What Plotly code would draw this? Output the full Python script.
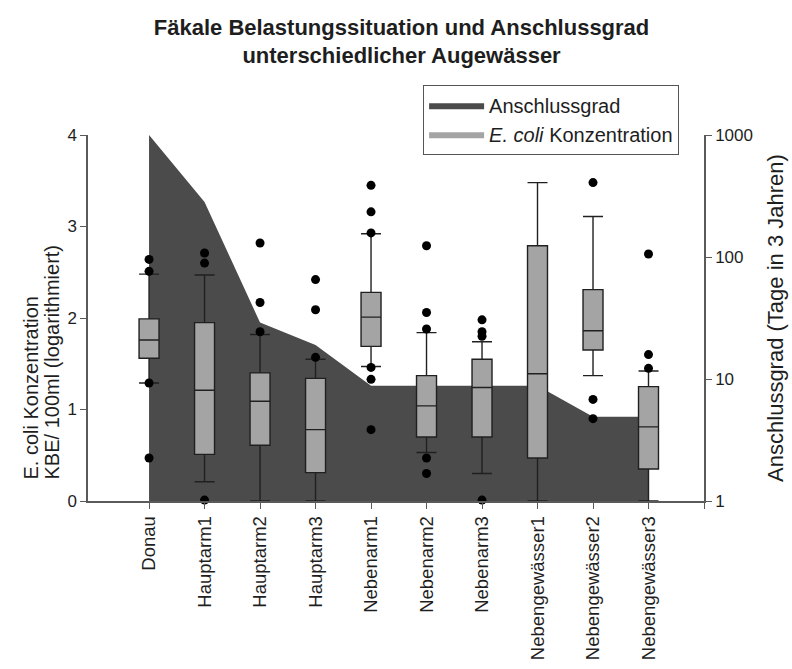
import plotly.graph_objects as go

categories = ["Donau", "Hauptarm1", "Hauptarm2", "Hauptarm3", "Nebenarm1",
              "Nebenarm2", "Nebenarm3", "Nebengewässer1", "Nebengewässer2", "Nebengewässer3"]

# Anschlussgrad (Tage in 3 Jahren), right log axis
anschluss = [1000, 283, 29, 19, 8.8, 8.8, 8.8, 8.8, 4.9, 4.9]

# E. coli box statistics (log10 KBE/100ml)
q1 = [1.56, 0.51, 0.61, 0.31, 1.69, 0.70, 0.70, 0.47, 1.65, 0.35]
median = [1.76, 1.21, 1.09, 0.78, 2.01, 1.04, 1.24, 1.39, 1.86, 0.81]
q3 = [1.99, 1.95, 1.40, 1.34, 2.28, 1.37, 1.55, 2.79, 2.31, 1.25]
upper = [2.48, 2.47, 1.82, 1.55, 2.92, 1.84, 1.74, 3.48, 3.11, 1.42]
lower = [1.29, 0.21, 0.00, 0.00, 1.47, 0.53, 0.30, 0.00, 1.37, 0.00]

# outliers per category
outliers = [
    [2.64, 2.51, 1.29, 0.47],
    [2.71, 2.60, 0.01],
    [2.82, 2.17, 1.85],
    [2.42, 2.09, 1.57],
    [3.45, 3.16, 2.93, 1.46, 1.33, 0.78],
    [2.79, 2.06, 1.88, 0.47, 0.30],
    [1.98, 1.85, 1.80, 0.01],
    [],
    [3.48, 1.11, 0.90],
    [2.70, 1.60, 1.45],
]

FONT = "Liberation Sans, Arial, sans-serif"
TXT = "#1e1e1e"
AREA = "#4b4b4b"
BOXF = "#a4a4a4"
AXC = "#5a5a5a"

idx = list(range(len(categories)))

fig = go.Figure()

# area (polygon closed down to the axis base value 1)
ax = [idx[0]] + idx + [idx[-1]]
ay = [1] + anschluss + [1]
fig.add_trace(go.Scatter(
    x=ax, y=ay, mode="lines", fill="toself", fillcolor=AREA,
    line=dict(width=0, color=AREA), name="Anschlussgrad", yaxis="y",
    hoverinfo="skip", showlegend=True))

# legend entry for E. coli (wide grey swatch)
fig.add_trace(go.Scatter(
    x=[None], y=[None], mode="lines", fill="toself", fillcolor=BOXF,
    line=dict(width=0, color=BOXF), name="<i>E. coli</i> Konzentration",
    yaxis="y2", showlegend=True))

fig.add_trace(go.Box(
    x=idx, q1=q1, median=median, q3=q3, lowerfence=lower, upperfence=upper,
    width=0.36, whiskerwidth=1.0, fillcolor=BOXF,
    line=dict(color="#202020", width=1.4), boxpoints=False,
    yaxis="y2", showlegend=False, name="E. coli"))

ox, oy = [], []
for i, vals in enumerate(outliers):
    for v in vals:
        ox.append(i)
        oy.append(v)
fig.add_trace(go.Scatter(
    x=ox, y=oy, mode="markers", yaxis="y2", showlegend=False,
    marker=dict(color="#000000", size=9), cliponaxis=False))

fig.update_layout(
    width=792, height=669,
    margin=dict(l=88, r=88, t=135, b=168),
    paper_bgcolor="white", plot_bgcolor="white",
    font=dict(family=FONT, color=TXT, size=17),
    title=dict(
        text="<b>Fäkale Belastungssituation und Anschlussgrad<br>unterschiedlicher Augewässer</b>",
        x=0.507, xanchor="center", xref="container",
        y=0.948, yanchor="top", yref="container",
        font=dict(family=FONT, size=22, color=TXT)),
    xaxis=dict(
        range=[-1.1, 10], tickmode="array", tickvals=idx + [10],
        ticktext=categories + [""], tickangle=-90, automargin=False,
        tickfont=dict(size=18.5), ticks="outside", ticklen=6, tickcolor=AXC,
        showline=True, linecolor=AXC, linewidth=1.5, showgrid=False,
        zeroline=False),
    yaxis=dict(
        type="log", range=[0, 3], side="right", automargin=False,
        tickvals=[1, 10, 100, 1000], ticktext=["1", "10", "100", "1000"],
        ticks="outside", ticklen=6, tickcolor=AXC, tickfont=dict(size=17),
        showline=True, linecolor=AXC, linewidth=1.5, showgrid=False,
        zeroline=False,
        title=dict(text="Anschlussgrad (Tage in 3 Jahren)", font=dict(size=22),
                   standoff=16)),
    yaxis2=dict(
        overlaying="y", side="left", range=[0, 4], automargin=False,
        tickvals=[0, 1, 2, 3, 4], ticks="outside", ticklen=6, tickcolor=AXC,
        tickfont=dict(size=17),
        showline=True, linecolor=AXC, linewidth=1.5, showgrid=False,
        zeroline=False),
    legend=dict(
        x=0.544, y=1.137, xanchor="left", yanchor="top",
        bordercolor="#555555", borderwidth=1, bgcolor="white",
        font=dict(size=20), traceorder="normal", itemwidth=55),
    showlegend=True,
)

# left axis title, two lines aligned at the bottom
fig.add_annotation(text="E. coli Konzentration", textangle=-90,
                   xref="paper", yref="paper", x=(30 - 88) / 616, y=(501 - 482) / 366,
                   xanchor="center", yanchor="bottom", showarrow=False,
                   font=dict(size=20, color=TXT))
fig.add_annotation(text="KBE/ 100ml (logarithmiert)", textangle=-90,
                   xref="paper", yref="paper", x=(51 - 88) / 616, y=(501 - 482) / 366,
                   xanchor="center", yanchor="bottom", showarrow=False,
                   font=dict(size=20, color=TXT))

fig.write_html("out.html")
